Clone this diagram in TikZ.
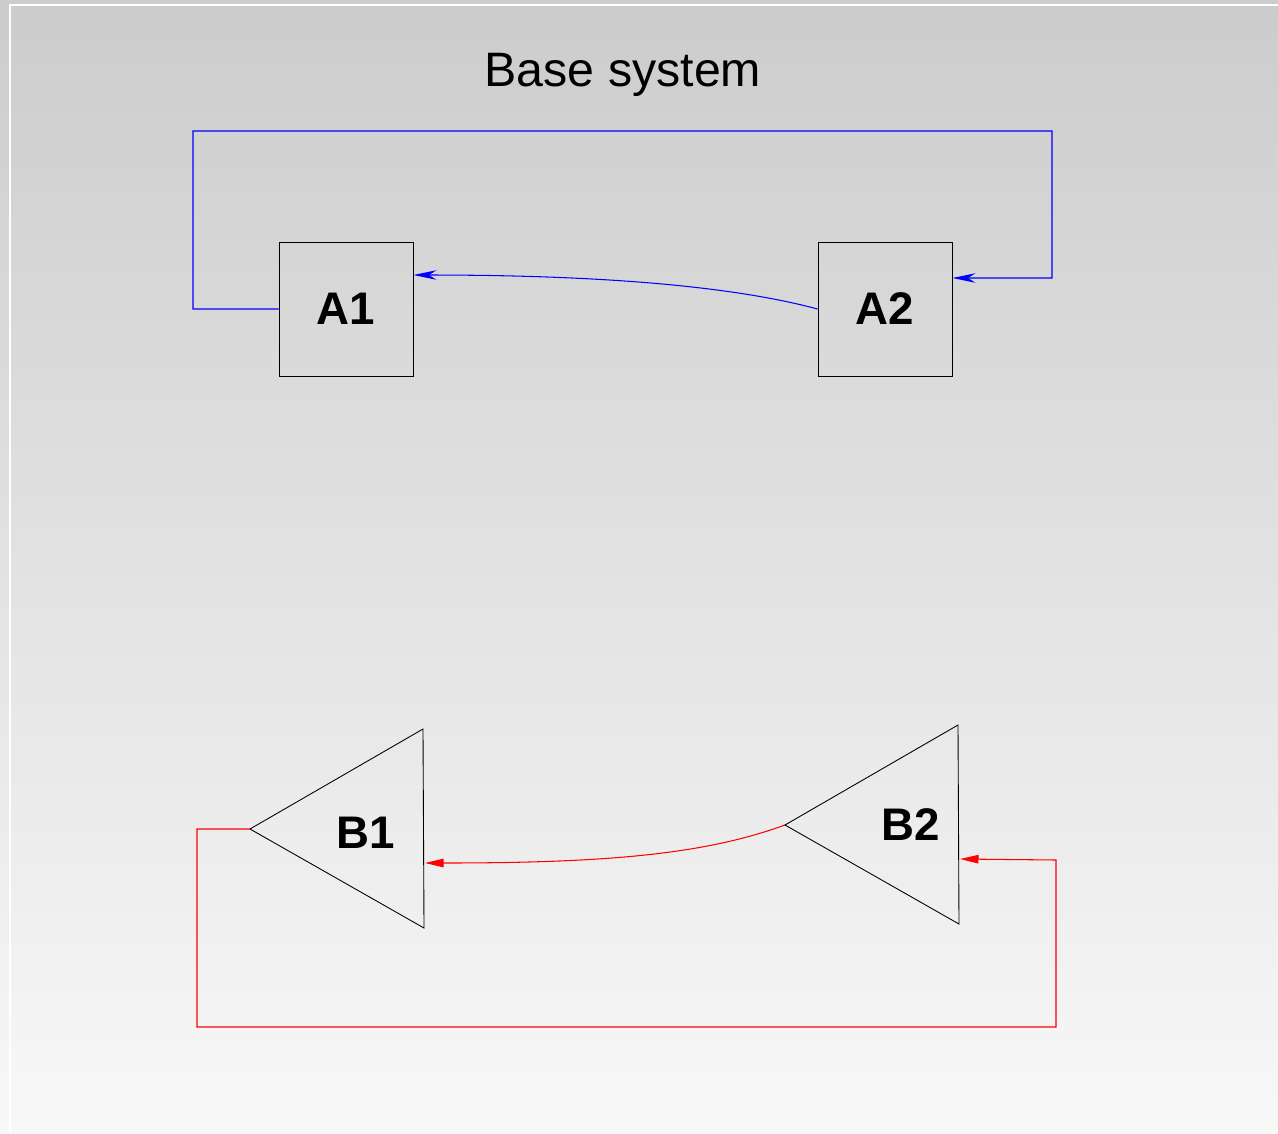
\documentclass[tikz,border=0pt]{standalone}
\usepackage{fontspec}
\setmainfont{Liberation Sans}
\usetikzlibrary{arrows.meta}
\definecolor{bgtop}{HTML}{CCCCCC}
\definecolor{bgbottom}{HTML}{F8F8F8}

\begin{document}
\begin{tikzpicture}
	[%
	x=0.02cm, y=0.02cm,%
	block/.style   ={rectangle,	draw=black,	line width=0.5pt,	inner sep=0pt,	minimum size=2.68cm,	font=\bfseries\fontsize{26}{31}\selectfont},%
	tag/.style     ={inner sep=0pt,	font=\bfseries\fontsize{26}{31}\selectfont},%
	bluewire/.style={draw=blue,	line width=0.6pt,	-{Stealth[length=0.46cm, width=0.19cm]}},%
	redwire/.style ={draw=red,	line width=0.6pt,	-{Triangle[length=0.37cm, width=0.17cm]}},%
	]

	% background
	\useasboundingbox (0,0) rectangle (1278,-1133);
	\shade [top color=bgtop, bottom color=bgbottom] (0,0) rectangle (1278,-1133);
	\draw [white, line width=1.2pt] (10,-1133) -- (10,-5) -- (1278,-5);

	% nodes
	\node (title) at (623,-75) {\fontsize{27.5}{33}\selectfont Base system};
	\node (A1) at (346,-309) [block] {A1};
	\node (A2) at (885,-309) [block] {A2};

	\foreach \n/\x/\y in {B1/250/829, B2/785/825}%
		\draw [line width=0.5pt] (\x,-\y) coordinate (\n apex) -- ++(173,100) -- ++(1,-199) -- cycle;
	\node (B1) at (366,-833) [tag] {B1};
	\node (B2) at (911,-825) [tag] {B2};
	\coordinate (B1in) at (425,-863);
	\coordinate (B2in) at (960,-859);

	% interconnections
	\draw [bluewire] (A1.west) -| (193,-131) -| (1052,-278) -- ([yshift=0.62cm]A2.east);
	\draw [bluewire] (A2.west) to [out=165, in=0, out looseness=0.6, in looseness=1.1] ([yshift=0.68cm]A1.east);
	\draw [redwire] (B1apex) -| (197,-1027) -| (1056,-860) -- (B2in);
	\draw [redwire] (B2apex) to [out=200, in=0, out looseness=0.6, in looseness=1.3] (B1in);

\end{tikzpicture}
\end{document}
